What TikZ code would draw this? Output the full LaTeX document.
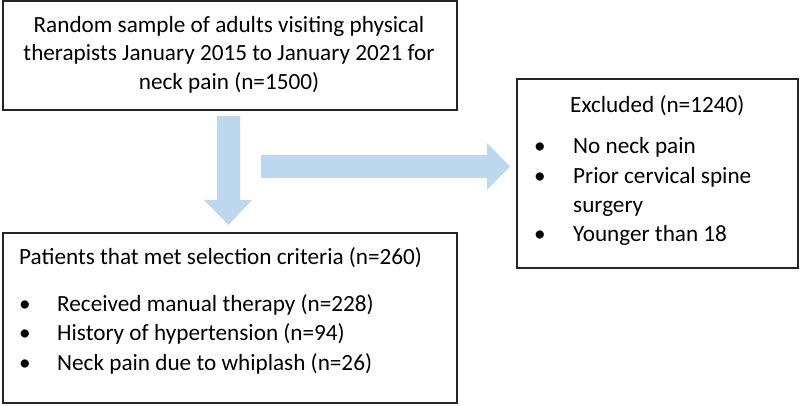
\documentclass[tikz,border=0pt]{standalone}
\usepackage{fontspec}
\setmainfont{Carlito}
\begin{document}
\begin{tikzpicture}[x=1pt,y=-1pt,
  box/.style={draw=black!85,line width=1.4pt,fill=white},
  txt/.style={anchor=base west,inner sep=0pt,font=\fontsize{23.2}{27}\selectfont},
  ctxt/.style={anchor=base,inner sep=0pt,font=\fontsize{23.2}{27}\selectfont},
  bul/.style={anchor=base,inner sep=0pt,font=\fontsize{23.2}{27}\selectfont},
  blk/.style={fill=arrowblue,draw=none}]
\definecolor{arrowblue}{HTML}{BDD7EE}
\useasboundingbox (0,0) rectangle (800,405);
% boxes
\draw[box] (3,1) rectangle (457,110);
\draw[box] (3,233) rectangle (457,403);
\draw[box] (517,79) rectangle (798,268);
% top box text
\node[ctxt] (t1) at (229,32) {Random sample of adults visiting physical};
\node[ctxt] (t2) at (229,60.5) {therapists January 2015 to January 2021 for};
\node[ctxt] (t3) at (229,89) {neck pain (n=1500)};
% excluded box
\node[txt] (e0) at (570,112) {Excluded (n=1240)};
\node[bul] (eb1) at (540,153.5) {\textbullet};
\node[txt] (e1) at (573,153.5) {No neck pain};
\node[bul] (eb2) at (540,183) {\textbullet};
\node[txt] (e2) at (573,183) {Prior cervical spine};
\node[txt] (e3) at (573,212) {surgery};
\node[bul] (eb4) at (540,241.5) {\textbullet};
\node[txt] (e4) at (573,241.5) {Younger than 18};
% bottom box
\node[txt] (b0) at (19,264) {Patients that met selection criteria (n=260)};
\node[bul] (bb1) at (25,311) {\textbullet};
\node[txt] (b1) at (57,311) {Received manual therapy (n=228)};
\node[bul] (bb2) at (25,340.5) {\textbullet};
\node[txt] (b2) at (57,340.5) {History of hypertension (n=94)};
\node[bul] (bb3) at (25,370) {\textbullet};
\node[txt] (b3) at (57,370) {Neck pain due to whiplash (n=26)};
% block arrows
\fill[blk] (217,116) -- (240,116) -- (240,200) -- (252,200) -- (228.5,225) -- (204,200) -- (217,200) -- cycle;
\fill[blk] (261,155) -- (487,155) -- (487,143) -- (510,166.5) -- (487,190) -- (487,178) -- (261,178) -- cycle;
\end{tikzpicture}
\end{document}
